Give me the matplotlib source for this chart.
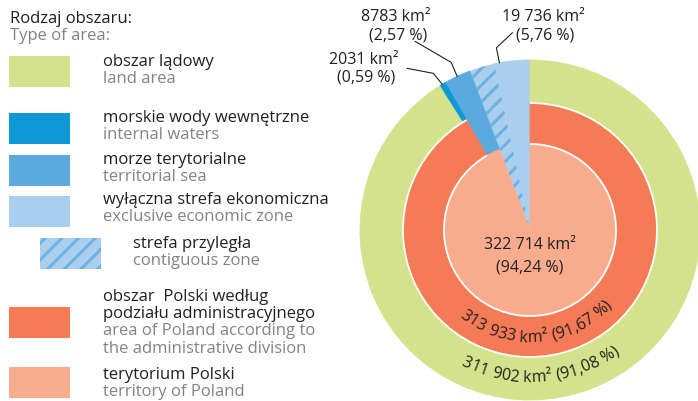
import math
import matplotlib
matplotlib.use('Agg')
import matplotlib.pyplot as plt
from matplotlib.patches import Rectangle, Arc
from matplotlib.font_manager import FontProperties
from matplotlib.textpath import text_to_path

W, H = 698, 401
FONT = 'Open Sans'
DARK = '#231f20'
GREY = '#838383'
plt.rcParams['font.family'] = [FONT, 'DejaVu Sans']
plt.rcParams['hatch.linewidth'] = 2.2

# areas in km2
land = 311902
internal = 2031
territorial = 8783
eez = 19736
contiguous = 8150   # hatched part of the EEZ wedge
total = land + internal + territorial + eez

# labels as printed on the chart
eez_lbl = ['19 736 km²', '(5,76 %)']
ts_lbl = ['8783 km²', '(2,57 %)']
iw_lbl = ['2031 km²', '(0,59 %)']
terr_lbl = ['322 714 km²', '(94,24 %)']
admin_lbl = '313 933 km² (91,67 %)'
land_lbl = '311 902 km² (91,08 %)'

GREEN = '#d4e38b'
DBLUE = '#0e98d6'
MBLUE = '#5aaadf'
LBLUE = '#aacfee'
HBLUE = '#6eb1e3'
RED = '#f47b56'
SALMON = '#f9ac8d'

legend_main = [['obszar lądowy'], ['morskie wody wewnętrzne'], ['morze terytorialne'],
               ['wyłączna strefa ekonomiczna'], ['strefa przyległa'],
               ['obszar  Polski według', 'podziału administracyjnego'], ['terytorium Polski']]
legend_en = [['land area'], ['internal waters'], ['territorial sea'], ['exclusive economic zone'],
             ['contiguous zone'], ['area of Poland according to', 'the administrative division'],
             ['territory of Poland']]
legend_cols = [GREEN, DBLUE, MBLUE, LBLUE, 'hatch', RED, SALMON]

fig = plt.figure(figsize=(W / 100, H / 100), dpi=100)
ax = fig.add_axes([0, 0, 1, 1])

CX, CY = 530, H - 230
R1, R2, R3 = 170, 127, 86
FS = 12
FN = 11.5


def ring(vals, cols, r, width=None):
    wp = dict(linewidth=0.6)
    if width:
        wp['width'] = width
    wedges, _ = ax.pie(vals, colors=cols, radius=r, center=(CX, CY), startangle=90,
                       counterclock=True, wedgeprops=wp, frame=True)
    for w, c in zip(wedges, cols):
        w.set_edgecolor(c)
    wedges[1].set_hatch('//')
    wedges[1].set_edgecolor(HBLUE)
    wedges[1].set_linewidth(0)
    return wedges


ring([eez - contiguous, contiguous, territorial, internal, land],
     [LBLUE, LBLUE, MBLUE, DBLUE, GREEN], R1, R1 - R2)
ring([eez - contiguous, contiguous, territorial, internal + land],
     [LBLUE, LBLUE, MBLUE, RED], R2, R2 - R3)
ring([eez - contiguous, contiguous, territorial + internal + land],
     [LBLUE, LBLUE, SALMON], R3)

# white borders of the red ring
a0 = 90 + 360 * (eez + territorial) / total
for r in (R2, R3):
    ax.add_patch(Arc((CX, CY), 2 * r, 2 * r, theta1=a0, theta2=450, color='white', lw=1.3))


def angle_of(before, value):
    return math.radians(90 + 360 * (before + value / 2) / total)


# callouts for the sea areas
callouts = [
    (eez, 0, eez_lbl, (-3, 15), (13, 30), (543, 17)),
    (territorial, eez, ts_lbl, (-6, 14), (-42, 35), (396, 17)),
    (internal, eez + territorial, iw_lbl, (-9, 11), (-35, 16), (364, 60)),
]
for val, before, lbl, d1, d2, (tx, ty) in callouts:
    a = angle_of(before, val)
    px, py = CX + R1 * math.cos(a), CY + R1 * math.sin(a)
    ax.plot([px, px + d1[0], px + d2[0]], [py, py + d1[1], py + d2[1]],
            color=DARK, lw=0.8, solid_joinstyle='miter')
    ax.text(tx, H - ty, lbl[0], ha='center', va='center', fontsize=FN, color=DARK)
    ax.text(tx + 2, H - ty - 18, lbl[1], ha='center', va='center', fontsize=FN, color=DARK)

# centre label
ax.text(CX, H - 245, terr_lbl[0], ha='center', va='center', fontsize=FN, color=DARK)
ax.text(CX, H - 268, terr_lbl[1], ha='center', va='center', fontsize=FN, color=DARK)


def char_w(ch, prop):
    w1 = text_to_path.get_text_width_height_descent('|' + ch + '|', prop, ismath=False)[0]
    w0 = text_to_path.get_text_width_height_descent('||', prop, ismath=False)[0]
    return (w1 - w0) * 100 / 72


def arc_text(s, r, mid_deg, size):
    prop = FontProperties(family=FONT, size=size)
    ws = [char_w(ch, prop) for ch in s]
    start = math.radians(mid_deg) - sum(ws) / 2 / r
    d = 0
    for ch, w in zip(s, ws):
        th = start + (d + w / 2) / r
        d += w
        if ch == ' ':
            continue
        ax.text(CX + r * math.cos(th), CY + r * math.sin(th), ch, fontproperties=prop,
                rotation=math.degrees(th) + 90, rotation_mode='anchor',
                ha='center', va='center', color=DARK)


arc_text(admin_lbl, 108, 274, FN)
arc_text(land_lbl, 148, 274.5, FN)

# legend
ax.text(10, H - 19, 'Rodzaj obszaru:', ha='left', va='center', fontsize=FS, color=DARK)
ax.text(10, H - 36, 'Type of area:', ha='left', va='center', fontsize=FS, color=GREY)
box_top = [56, 113, 155, 196, 238, 307, 367]
text_y = [62, 118, 160, 200, 244, 297, 375]
for main, en, col, top, ty in zip(legend_main, legend_en, legend_cols, box_top, text_y):
    x0, tx = (40, 133) if col == 'hatch' else (9, 103)
    if col == 'hatch':
        ax.add_patch(Rectangle((x0, H - top - 31), 61, 31, facecolor=LBLUE,
                               edgecolor=HBLUE, lw=0, hatch='//'))
    else:
        ax.add_patch(Rectangle((x0, H - top - 31), 61, 31, facecolor=col, lw=0))
    lines = [(s, DARK) for s in main] + [(s, GREY) for s in en]
    for i, (s, c) in enumerate(lines):
        ax.text(tx, H - ty - 17.2 * i, s, ha='left', va='center', fontsize=FS, color=c)

ax.set_xlim(0, W)
ax.set_ylim(0, H)
ax.set_aspect('auto')
ax.axis('off')
fig.savefig('out.png', dpi=100)
